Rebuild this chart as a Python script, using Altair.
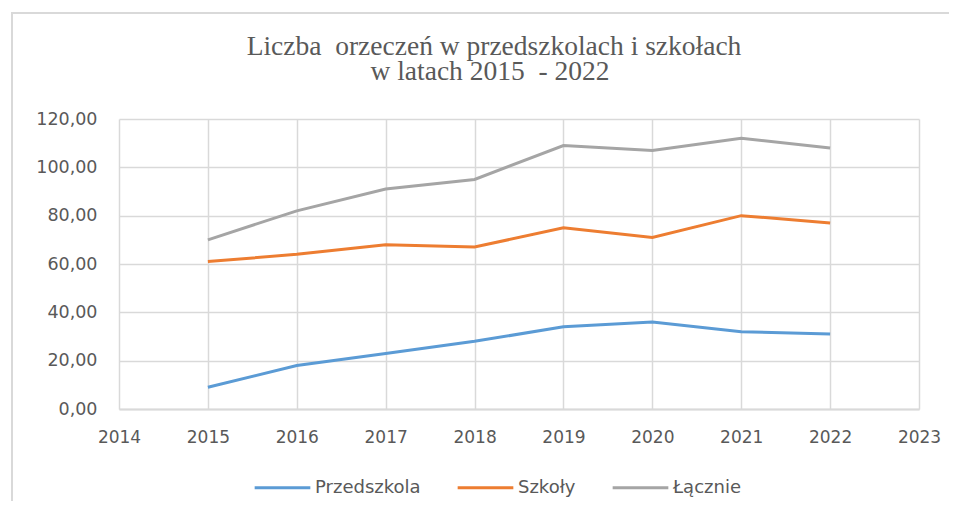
import altair as alt
import pandas as pd

years = [2015, 2016, 2017, 2018, 2019, 2020, 2021, 2022]
przedszkola = [9, 18, 23, 28, 34, 36, 32, 31]
szkoly = [61, 64, 68, 67, 75, 71, 80, 77]
lacznie = [70, 82, 91, 95, 109, 107, 112, 108]
series_names = ["Przedszkola", "Szkoły", "Łącznie"]
series_colors = ["#5B9BD5", "#ED7D31", "#A5A5A5"]
x_ticks = list(range(2014, 2024))
y_ticks = [0, 20, 40, 60, 80, 100, 120]
title_lines = ["Liczba\u00a0 orzeczeń w przedszkolach i szkołach",
               "w latach 2015\u00a0 - 2022"]

rows = []
for name, vals in zip(series_names, [przedszkola, szkoly, lacznie]):
    for yr, v in zip(years, vals):
        rows.append({"Rok": yr, "Wartość": v, "Seria": name})
df = pd.DataFrame(rows)

FONT = "DejaVu Sans"
GRID = "#D9D9D9"
TXT = "#595959"

lines = alt.Chart(df).mark_line(strokeWidth=3).encode(
    x=alt.X("Rok:Q",
            scale=alt.Scale(domain=[2014, 2023], nice=False, zero=False),
            axis=alt.Axis(values=x_ticks, format="d", title=None,
                          grid=True, gridColor=GRID, gridWidth=1.5,
                          domainColor=GRID, domainWidth=2, ticks=False,
                          labelFlush=False,
                          labelPadding=20, labelFontSize=17,
                          labelColor=TXT, labelFont=FONT)),
    y=alt.Y("Wartość:Q",
            scale=alt.Scale(domain=[0, 120], nice=False),
            axis=alt.Axis(values=y_ticks, title=None,
                          labelExpr="replace(format(datum.value, '.2f'), '.', ',')",
                          grid=True, gridColor=GRID, gridWidth=1.5,
                          domain=False, ticks=False,
                          labelPadding=22, labelFontSize=17.5,
                          labelColor=TXT, labelFont=FONT)),
    color=alt.Color("Seria:N",
                    scale=alt.Scale(domain=series_names, range=series_colors),
                    sort=series_names,
                    legend=alt.Legend(title=None, orient="none",
                                      direction="horizontal",
                                      legendX=134, legendY=339,
                                      symbolType="stroke",
                                      symbolSize=3100,
                                      symbolStrokeWidth=3,
                                      labelFontSize=18, labelColor=TXT,
                                      labelFont=FONT, labelOffset=3,
                                      columnPadding=30)),
    order=alt.Order("Rok:Q"),
)

border = alt.Chart(pd.DataFrame({"a": [0]})).mark_rect(
    fill="white", fillOpacity=0, stroke=GRID, strokeWidth=2
).encode(
    x=alt.value(-107), x2=alt.value(850),
    y=alt.value(-106), y2=alt.value(400),
)

title1 = alt.Chart(pd.DataFrame({"t": [title_lines[0]]})).mark_text(
    font="Liberation Serif", fontSize=27.5, color=TXT,
    align="center", baseline="alphabetic"
).encode(text="t:N", x=alt.value(375), y=alt.value(-64))

title2 = alt.Chart(pd.DataFrame({"t": [title_lines[1]]})).mark_text(
    font="Liberation Serif", fontSize=27.5, color=TXT,
    align="center", baseline="alphabetic"
).encode(text="t:N", x=alt.value(371), y=alt.value(-39))

chart = alt.layer(border, title1, title2, lines).properties(
    width=800, height=290,
    autosize=alt.AutoSizeParams(type="none"),
    padding={"left": 111, "top": 111, "right": 30, "bottom": 92},
).configure_view(stroke=None)

chart.save("out.html", embed_options={"renderer": "svg", "actions": False})
